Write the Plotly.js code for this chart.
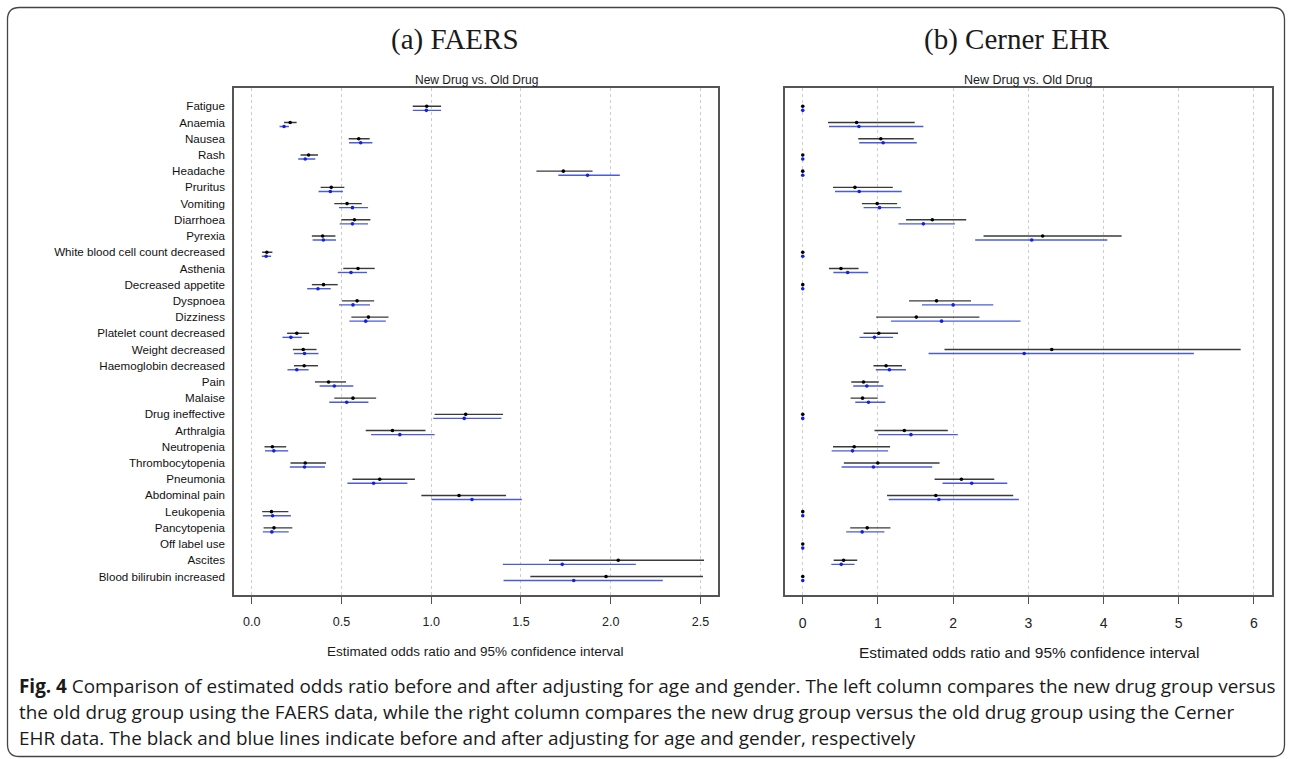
<!DOCTYPE html>
<html>
<head>
<meta charset="utf-8">
<script src="https://cdn.plot.ly/plotly-3.0.1.min.js"></script>
<style>
  html, body { margin: 0; padding: 0; background: #ffffff; }
  #chart { width: 1292px; height: 759px; }
</style>
</head>
<body>
<div id="chart"></div>
<script>
// ---------- DATA ----------
const categories = [
  "Fatigue", "Anaemia", "Nausea", "Rash", "Headache", "Pruritus", "Vomiting",
  "Diarrhoea", "Pyrexia", "White blood cell count decreased", "Asthenia",
  "Decreased appetite", "Dyspnoea", "Dizziness", "Platelet count decreased",
  "Weight decreased", "Haemoglobin decreased", "Pain", "Malaise",
  "Drug ineffective", "Arthralgia", "Neutropenia", "Thrombocytopenia",
  "Pneumonia", "Abdominal pain", "Leukopenia", "Pancytopenia",
  "Off label use", "Ascites", "Blood bilirubin increased"
];

// (a) FAERS – before adjustment (black)
const faersEst = [0.975, 0.214, 0.596, 0.317, 1.736, 0.443, 0.531, 0.572, 0.395, 0.084,
  0.592, 0.400, 0.587, 0.650, 0.251, 0.287, 0.292, 0.428, 0.564, 1.192,
  0.784, 0.115, 0.298, 0.713, 1.155, 0.110, 0.124, null, 2.042, 1.974];
const faersLo = [0.897, 0.180, 0.540, 0.272, 1.586, 0.384, 0.460, 0.499, 0.335, 0.058,
  0.510, 0.335, 0.503, 0.555, 0.197, 0.229, 0.235, 0.352, 0.460, 1.019,
  0.635, 0.071, 0.216, 0.561, 0.945, 0.058, 0.066, null, 1.656, 1.552];
const faersHi = [1.055, 0.250, 0.657, 0.369, 1.899, 0.516, 0.613, 0.661, 0.466, 0.115,
  0.685, 0.479, 0.682, 0.762, 0.320, 0.361, 0.369, 0.525, 0.693, 1.400,
  0.968, 0.192, 0.414, 0.909, 1.417, 0.204, 0.226, null, 2.520, 2.514];
// (a) FAERS – after adjustment (blue)
const faersAdjEst = [0.973, 0.180, 0.607, 0.298, 1.871, 0.438, 0.561, 0.561, 0.399, 0.080,
  0.553, 0.369, 0.564, 0.635, 0.218, 0.294, 0.251, 0.460, 0.529, 1.184,
  0.825, 0.123, 0.294, 0.679, 1.227, 0.116, 0.112, null, 1.730, 1.794];
const faersAdjLo = [0.897, 0.155, 0.542, 0.259, 1.708, 0.372, 0.486, 0.490, 0.339, 0.056,
  0.479, 0.309, 0.486, 0.544, 0.171, 0.235, 0.199, 0.378, 0.432, 1.011,
  0.665, 0.074, 0.212, 0.533, 1.001, 0.062, 0.062, null, 1.399, 1.403];
const faersAdjHi = [1.055, 0.207, 0.672, 0.354, 2.051, 0.508, 0.648, 0.648, 0.469, 0.108,
  0.642, 0.440, 0.659, 0.747, 0.279, 0.372, 0.317, 0.566, 0.650, 1.391,
  1.019, 0.203, 0.408, 0.867, 1.505, 0.218, 0.206, null, 2.140, 2.290];

// (b) Cerner EHR – before adjustment (black)
const cernerEst = [0, 0.716, 1.038, 0, 0, 0.694, 0.990, 1.723, 3.190, 0,
  0.508, 0, 1.779, 1.510, 1.011, 3.311, 1.108, 0.808, 0.795, 0,
  1.351, 0.684, 0.998, 2.110, 1.770, 0, 0.857, 0, 0.543, 0];
const cernerLo = [0, 0.336, 0.738, 0, 0, 0.402, 0.787, 1.374, 2.404, 0,
  0.349, 0, 1.413, 0.976, 0.808, 1.885, 0.940, 0.645, 0.636, 0,
  0.954, 0.402, 0.547, 1.753, 1.121, 0, 0.631, 0, 0.411, 0];
const cernerHi = [0, 1.489, 1.476, 0, 0, 1.198, 1.255, 2.174, 4.240, 0,
  0.742, 0, 2.238, 2.349, 1.267, 5.823, 1.320, 1.011, 0.998, 0,
  1.929, 1.161, 1.819, 2.547, 2.799, 0, 1.166, 0, 0.724, 0];
// (b) Cerner EHR – after adjustment (blue)
const cernerAdjEst = [0, 0.747, 1.069, 0, 0, 0.751, 1.021, 1.604, 3.045, 0,
  0.597, 0, 2.000, 1.846, 0.954, 2.945, 1.152, 0.852, 0.874, 0,
  1.439, 0.662, 0.940, 2.247, 1.810, 0, 0.790, 0, 0.512, 0];
const cernerAdjLo = [0, 0.349, 0.751, 0, 0, 0.429, 0.809, 1.273, 2.293, 0,
  0.407, 0, 1.585, 1.174, 0.755, 1.673, 0.971, 0.671, 0.698, 0,
  1.002, 0.384, 0.517, 1.859, 1.143, 0, 0.578, 0, 0.380, 0];
const cernerAdjHi = [0, 1.604, 1.516, 0, 0, 1.317, 1.304, 2.024, 4.050, 0,
  0.871, 0, 2.534, 2.896, 1.201, 5.201, 1.373, 1.073, 1.099, 0,
  2.062, 1.135, 1.722, 2.720, 2.874, 0, 1.086, 0, 0.689, 0];

const faersTicks = [0, 0.5, 1, 1.5, 2, 2.5];
const faersTickText = ["0.0", "0.5", "1.0", "1.5", "2.0", "2.5"];
const cernerTicks = [0, 1, 2, 3, 4, 5, 6];
const cernerTickText = ["0", "1", "2", "3", "4", "5", "6"];

// ---------- STYLE ----------
const BLACK_LINE = "#3a3a3a", BLACK_PT = "#000000";
const BLUE_LINE = "#4a5be0", BLUE_PT = "#1020e8";
const ADJ_OFFSET = 0.25;
const SANS = "Liberation Sans, Arial, sans-serif";
const SERIF = "Liberation Serif, Times New Roman, serif";
const CAP = "Open Sans, sans-serif";

function segTrace(est, lo, hi, off, color, xa, ya) {
  const xs = [], ys = [];
  for (let i = 0; i < est.length; i++) {
    if (est[i] === null) continue;
    xs.push(lo[i], hi[i], null);
    ys.push(i + off, i + off, null);
  }
  return { type: "scatter", mode: "lines", x: xs, y: ys, xaxis: xa, yaxis: ya,
    line: { color: color, width: 1.4 }, hoverinfo: "skip", showlegend: false };
}
function ptTrace(est, off, color, xa, ya) {
  const xs = [], ys = [];
  for (let i = 0; i < est.length; i++) {
    if (est[i] === null) continue;
    xs.push(est[i]); ys.push(i + off);
  }
  return { type: "scatter", mode: "markers", x: xs, y: ys, xaxis: xa, yaxis: ya,
    marker: { color: color, size: 3.6 }, showlegend: false };
}

const data = [
  segTrace(faersEst, faersLo, faersHi, 0, BLACK_LINE, "x", "y"),
  segTrace(faersAdjEst, faersAdjLo, faersAdjHi, ADJ_OFFSET, BLUE_LINE, "x", "y"),
  ptTrace(faersEst, 0, BLACK_PT, "x", "y"),
  ptTrace(faersAdjEst, ADJ_OFFSET, BLUE_PT, "x", "y"),
  segTrace(cernerEst, cernerLo, cernerHi, 0, BLACK_LINE, "x2", "y2"),
  segTrace(cernerAdjEst, cernerAdjLo, cernerAdjHi, ADJ_OFFSET, BLUE_LINE, "x2", "y2"),
  ptTrace(cernerEst, 0, BLACK_PT, "x2", "y2"),
  ptTrace(cernerAdjEst, ADJ_OFFSET, BLUE_PT, "x2", "y2")
];

const W = 1292, H = 759;
const px = v => v / W, py = v => 1 - v / H;

const yIdx = categories.map((c, i) => i);
const yDomain = [py(595.3), py(87.5)];
const yRange = [30.16, -1.16];

const axisCommon = {
  showline: true, mirror: true, linecolor: "#555555", linewidth: 1.5,
  zeroline: false, fixedrange: true
};

function ann(text, x, y, size, family, opts) {
  return Object.assign({ text: text, x: px(x), y: py(y), xref: "paper", yref: "paper",
    showarrow: false, xanchor: "center", yanchor: "middle",
    font: { family: family, size: size, color: "#1a1a1a" } }, opts || {});
}

const layout = {
  width: W, height: H,
  margin: { l: 0, r: 0, t: 0, b: 0 },
  paper_bgcolor: "#ffffff", plot_bgcolor: "#ffffff",
  showlegend: false,
  font: { family: SANS, size: 12, color: "#222222" },
  xaxis: Object.assign({}, axisCommon, {
    domain: [px(233.8), px(718.4)], anchor: "y",
    range: [-0.1, 2.6], tickvals: faersTicks, ticktext: faersTickText,
    ticks: "outside", ticklen: 7, tickcolor: "#555555", tickwidth: 1,
    ticklabelstandoff: 7,
    showgrid: true, gridcolor: "#cccccc", gridwidth: 1, griddash: "3px,3px",
    tickfont: { family: SANS, size: 12.5, color: "#222222" }
  }),
  yaxis: Object.assign({}, axisCommon, {
    domain: yDomain, anchor: "x", range: yRange,
    tickvals: yIdx, ticktext: categories, ticks: "", showgrid: false,
    ticklabelstandoff: 5,
    tickfont: { family: SANS, size: 11.6, color: "#111111" }
  }),
  xaxis2: Object.assign({}, axisCommon, {
    domain: [px(784.7), px(1272)], anchor: "y2",
    range: [-0.24, 6.24], tickvals: cernerTicks, ticktext: cernerTickText,
    ticks: "outside", ticklen: 7, tickcolor: "#555555", tickwidth: 1,
    ticklabelstandoff: 7,
    showgrid: true, gridcolor: "#cccccc", gridwidth: 1, griddash: "3px,3px",
    tickfont: { family: SANS, size: 14, color: "#222222" }
  }),
  yaxis2: Object.assign({}, axisCommon, {
    domain: yDomain, anchor: "x2", range: yRange,
    showticklabels: false, ticks: "", showgrid: false
  }),
  annotations: [
    ann("(a) FAERS", 455, 40, 29, SERIF),
    ann("(b) Cerner EHR", 1017, 40, 29, SERIF),
    ann("New Drug vs. Old Drug", 476, 80, 12, SANS),
    ann("New Drug vs. Old Drug", 1028, 80, 12.5, SANS),
    ann("Estimated odds ratio and 95% confidence interval", 475, 651, 13.5, SANS),
    ann("Estimated odds ratio and 95% confidence interval", 1029, 652, 15.5, SANS),
    ann("<b>Fig. 4</b> Comparison of estimated odds ratio before and after adjusting for age and gender. The left column compares the new drug group versus",
      17, 686, 18.9, CAP, { xanchor: "left", align: "left" }),
    ann("the old drug group using the FAERS data, while the right column compares the new drug group versus the old drug group using the Cerner",
      17, 712, 18.9, CAP, { xanchor: "left", align: "left" }),
    ann("EHR data. The black and blue lines indicate before and after adjusting for age and gender, respectively",
      17, 738, 18.9, CAP, { xanchor: "left", align: "left" })
  ],
  shapes: (function () {
    const x0 = px(7.5), x1 = px(1284.5), y0 = py(7.5), y1 = py(756.5);
    const rx = 12 / W, ry = 12 / H;
    const path = "M " + (x0 + rx) + "," + y0 +
      " L " + (x1 - rx) + "," + y0 +
      " Q " + x1 + "," + y0 + " " + x1 + "," + (y0 - ry) +
      " L " + x1 + "," + (y1 + ry) +
      " Q " + x1 + "," + y1 + " " + (x1 - rx) + "," + y1 +
      " L " + (x0 + rx) + "," + y1 +
      " Q " + x0 + "," + y1 + " " + x0 + "," + (y1 + ry) +
      " L " + x0 + "," + (y0 - ry) +
      " Q " + x0 + "," + y0 + " " + (x0 + rx) + "," + y0 + " Z";
    return [{ type: "path", xref: "paper", yref: "paper", path: path,
      line: { color: "#444444", width: 1.3 }, fillcolor: "rgba(0,0,0,0)", layer: "below" }];
  })()
};

Plotly.newPlot("chart", data, layout, { displayModeBar: false, staticPlot: true });
</script>
</body>
</html>
